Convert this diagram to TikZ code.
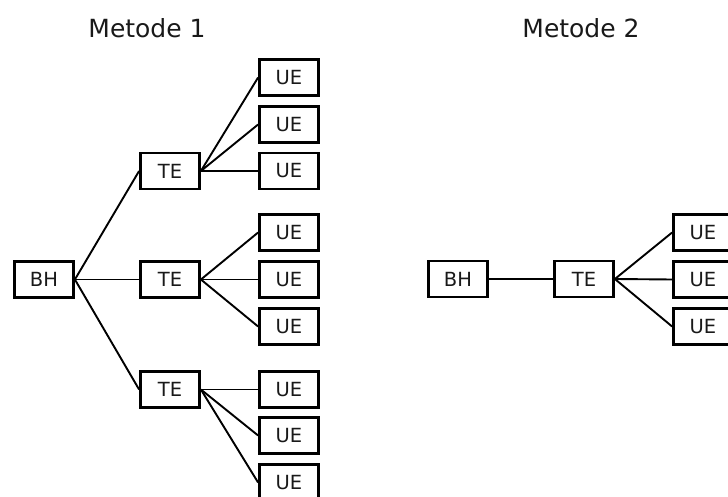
\documentclass[tikz,border=0pt]{standalone}
\usepackage{fontspec}
\setmainfont{DejaVu Sans}
\begin{document}
\begin{tikzpicture}[x=1pt,y=-1pt,
  box/.style={draw=black,line width=2.8pt,minimum width=59pt,minimum height=36pt,inner sep=0pt,font=\fontsize{19.5}{22}\selectfont,text=black!90},
  conn/.style={line width=1.9pt,black},
  ttl/.style={font=\fontsize{25}{28}\selectfont,text=black!90}]
\useasboundingbox (0,0) rectangle (728,497);
% titles
\node[ttl] (t1) at (147,28) {Metode 1};
\node[ttl] (t2) at (581,28) {Metode 2};
% Metode 1
\node[box] (bh1) at (44,279.5) {BH};
\node[box] (te1) at (170,171) {TE};
\node[box] (te2) at (170,279.5) {TE};
\node[box] (te3) at (170,389.5) {TE};
\node[box] (u1) at (289,77.5) {UE};
\node[box] (u2) at (289,124.5) {UE};
\node[box] (u3) at (289,171) {UE};
\node[box] (u4) at (289,232.5) {UE};
\node[box] (u5) at (289,279.5) {UE};
\node[box] (u6) at (289,326.5) {UE};
\node[box] (u7) at (289,389.5) {UE};
\node[box] (u8) at (289,435.5) {UE};
\node[box] (u9) at (289,482.5) {UE};
\draw[conn] (bh1.east) -- (te1.west);
\draw[conn] (bh1.east) -- (te2.west);
\draw[conn] (bh1.east) -- (te3.west);
\foreach \u in {u1,u2,u3} \draw[conn] (te1.east) -- (\u.west);
\foreach \u in {u4,u5,u6} \draw[conn] (te2.east) -- (\u.west);
\foreach \u in {u7,u8,u9} \draw[conn] (te3.east) -- (\u.west);
% Metode 2
\node[box] (bh2) at (458,279) {BH};
\node[box] (te4) at (584,279) {TE};
\node[box] (v1) at (703,232.5) {UE};
\node[box] (v2) at (703,279.5) {UE};
\node[box] (v3) at (703,326.5) {UE};
\draw[conn] (bh2.east) -- (te4.west);
\foreach \u in {v1,v2,v3} \draw[conn] (te4.east) -- (\u.west);
\end{tikzpicture}
\end{document}
